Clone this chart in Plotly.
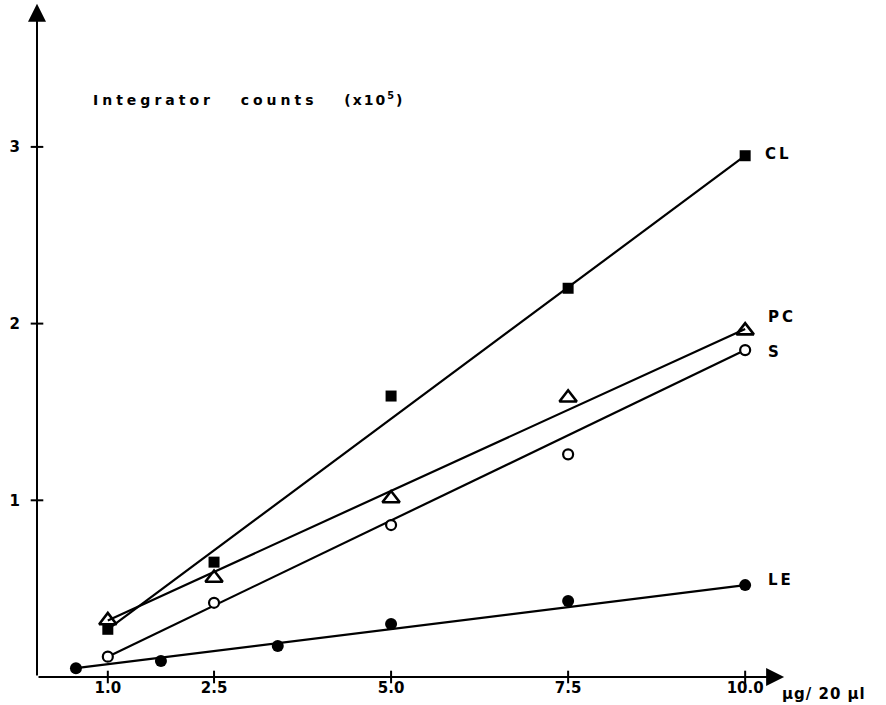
import plotly.graph_objects as go

# ---- data ----
dose = [1.0, 2.5, 5.0, 7.5, 10.0]
cl_counts = [0.27, 0.65, 1.59, 2.20, 2.95]
pc_counts = [0.32, 0.56, 1.01, 1.58, 1.96]
s_counts = [0.115, 0.42, 0.86, 1.26, 1.85]
le_dose = [0.55, 1.75, 3.4, 5.0, 7.5, 10.0]
le_counts = [0.05, 0.09, 0.175, 0.30, 0.43, 0.52]

# fitted (hand-drawn) regression lines: end points
cl_fit_x, cl_fit_y = [1.0, 10.0], [0.27, 2.95]
pc_fit_x, pc_fit_y = [1.0, 10.0], [0.32, 1.97]
s_fit_x, s_fit_y = [1.0, 10.0], [0.115, 1.85]
le_fit_x, le_fit_y = [0.55, 10.0], [0.05, 0.52]

x_ticks = [1.0, 2.5, 5.0, 7.5, 10.0]
x_ticktext = ["1.0", "2.5", "5.0", "7.5", "10.0"]
y_ticks = [1, 2, 3]
y_ticktext = ["1", "2", "3"]

FONT = "DejaVu Sans, Liberation Sans, Arial, sans-serif"
BLACK = "#000000"
NB = "\u00a0"

fig = go.Figure()

# fit lines
for fx, fy in [(cl_fit_x, cl_fit_y), (pc_fit_x, pc_fit_y), (s_fit_x, s_fit_y), (le_fit_x, le_fit_y)]:
    fig.add_trace(go.Scatter(x=fx, y=fy, mode="lines",
                             line=dict(color=BLACK, width=2.2), hoverinfo="skip",
                             showlegend=False, cliponaxis=False))

# markers
fig.add_trace(go.Scatter(x=dose, y=cl_counts, mode="markers", name="CL",
                         marker=dict(symbol="square", size=11, color=BLACK),
                         showlegend=False, cliponaxis=False))
fig.add_trace(go.Scatter(x=dose, y=pc_counts, mode="markers", name="PC",
                         marker=dict(symbol="triangle-up-open", size=15, color=BLACK,
                                     line=dict(width=2.6, color=BLACK)),
                         showlegend=False, cliponaxis=False))
fig.add_trace(go.Scatter(x=dose, y=s_counts, mode="markers", name="S",
                         marker=dict(symbol="circle", size=10, color="white",
                                     line=dict(width=2.2, color=BLACK)),
                         showlegend=False, cliponaxis=False))
fig.add_trace(go.Scatter(x=le_dose, y=le_counts, mode="markers", name="LE",
                         marker=dict(symbol="circle", size=12, color=BLACK),
                         showlegend=False, cliponaxis=False))

# tick crosses on the axes
fig.add_trace(go.Scatter(x=x_ticks, y=[0] * len(x_ticks), mode="markers",
                         marker=dict(symbol="line-ns", size=9, line=dict(width=2, color=BLACK)),
                         hoverinfo="skip", showlegend=False, cliponaxis=False))
fig.add_trace(go.Scatter(x=[0] * len(y_ticks), y=y_ticks, mode="markers",
                         marker=dict(symbol="line-ew", size=9, line=dict(width=2, color=BLACK)),
                         hoverinfo="skip", showlegend=False, cliponaxis=False))

LS = '<span style="letter-spacing:4px">'
title_text = (LS + "<b>Integrator</b></span>" + NB * 6 +
              LS + "<b>counts</b></span>" + NB * 6 +
              '<span style="letter-spacing:2px"><b>(x10<sup>5</sup>)</b></span>')

annotations = [
    # axis arrows
    dict(x=10.55, y=0, ax=0, ay=0, xref="x", yref="y", axref="x", ayref="y",
         showarrow=True, arrowhead=2, arrowsize=1.8, arrowwidth=2, arrowcolor=BLACK,
         standoff=0, startstandoff=0, text=""),
    dict(x=0, y=3.81, ax=0, ay=0, xref="x", yref="y", axref="x", ayref="y",
         showarrow=True, arrowhead=2, arrowsize=1.8, arrowwidth=2, arrowcolor=BLACK,
         standoff=0, startstandoff=0, text=""),
    # y title
    dict(x=0.76, y=3.27, xref="x", yref="y", xanchor="left", yanchor="middle",
         showarrow=False, text=title_text,
         font=dict(family=FONT, size=14, color=BLACK)),
    # x unit
    dict(x=10.49, y=0, xref="x", yref="y", xanchor="left", yanchor="top", yshift=-6,
         showarrow=False, text='<span style="letter-spacing:1px"><b>µg/ 20 µl</b></span>',
         font=dict(family=FONT, size=15, color=BLACK)),
    # series labels
    dict(x=10.25, y=2.96, xref="x", yref="y", xanchor="left", showarrow=False,
         text='<span style="letter-spacing:3px"><b>CL</b></span>',
         font=dict(family=FONT, size=15, color=BLACK)),
    dict(x=10.3, y=2.04, xref="x", yref="y", xanchor="left", showarrow=False,
         text='<span style="letter-spacing:3px"><b>PC</b></span>',
         font=dict(family=FONT, size=15, color=BLACK)),
    dict(x=10.3, y=1.84, xref="x", yref="y", xanchor="left", showarrow=False,
         text="<b>S</b>", font=dict(family=FONT, size=15, color=BLACK)),
    dict(x=10.3, y=0.55, xref="x", yref="y", xanchor="left", showarrow=False,
         text='<span style="letter-spacing:3px"><b>LE</b></span>',
         font=dict(family=FONT, size=15, color=BLACK)),
]

fig.update_layout(
    width=886, height=705,
    margin=dict(l=37, r=7, t=2, b=28, autoexpand=False),
    paper_bgcolor="white", plot_bgcolor="white",
    showlegend=False,
    annotations=annotations,
    xaxis=dict(range=[0, 11.89], tickvals=x_ticks, ticktext=[f"<b>{t}</b>" for t in x_ticktext],
               showgrid=False, zeroline=False, showline=False, ticks="",
               ticklabelstandoff=0, automargin=False,
               tickfont=dict(family=FONT, size=15, color=BLACK)),
    yaxis=dict(range=[0, 3.82], tickvals=y_ticks, ticktext=[f"<b>{t}</b>" for t in y_ticktext],
               showgrid=False, zeroline=False, showline=False, ticks="",
               ticklabelstandoff=16, automargin=False,
               tickfont=dict(family=FONT, size=15, color=BLACK)),
)

fig.write_html("out.html", config={"displayModeBar": False},
               post_script="document.body.style.margin='0';document.body.style.overflow='hidden';")
